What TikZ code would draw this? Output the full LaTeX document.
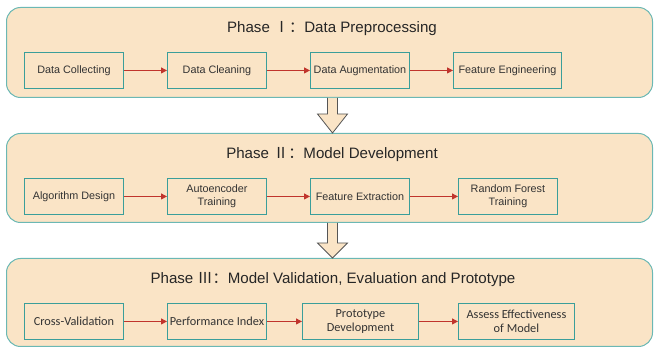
\documentclass[tikz,border=0pt]{standalone}
\usepackage{fontspec}
\setmainfont{Liberation Sans}
\newfontfamily\cjk{Noto Sans CJK SC}
\newfontfamily\calib{Carlito}
\usetikzlibrary{arrows.meta,calc}
\definecolor{panelfill}{HTML}{FAE4C6}
\definecolor{panelline}{HTML}{6BB8B4}
\definecolor{boxline}{HTML}{3A9E9A}
\definecolor{arrowred}{HTML}{C0342C}
\definecolor{txt}{HTML}{333333}
\definecolor{bigline}{HTML}{555555}
\begin{document}
\begin{tikzpicture}[x=1pt,y=-1pt,
  panel/.style={draw=panelline, line width=1pt, fill=panelfill, rounded corners=14pt, anchor=north west, inner sep=0pt},
  stepbox/.style={draw=boxline, line width=0.9pt, align=center, font=\fontsize{10.8}{13}\selectfont, text=txt, inner sep=0pt, anchor=north west, minimum height=36pt},
  stepcal/.style={stepbox, font=\calib\fontsize{12.3}{14.5}\selectfont},
  flow/.style={draw=arrowred, line width=0.9pt, -{Triangle[length=6pt,width=6pt]}},
  title/.style={font=\fontsize{15.1}{17}\selectfont, text=black!85},
  blockarrow/.style={draw=bigline, line width=0.8pt, fill=panelfill, line join=miter}
]
\useasboundingbox (0,0) rectangle (654,347);

% panels
\node[panel, minimum width=646pt, minimum height=90pt] (p1) at (6,7) {};
\node[panel, minimum width=646pt, minimum height=89pt] (p2) at (6,133) {};
\node[panel, minimum width=646pt, minimum height=88pt] (p3) at (6,258) {};

% titles
\node[title] (t1) at (332,29) {Phase {\cjk Ⅰ：}Data Preprocessing};
\node[title] (t2) at (332,155) {Phase {\cjk Ⅱ：}Model Development};
\node[title] (t3) at (333,280) {Phase {\cjk Ⅲ：}Model Validation, Evaluation and Prototype};

% phase I
\node[stepbox, minimum width=99pt] (a1) at (24,52) {Data Collecting};
\node[stepbox, minimum width=99pt] (a2) at (167,52) {Data Cleaning};
\node[stepbox, minimum width=99pt] (a3) at (310,52) {Data Augmentation};
\node[stepbox, minimum width=108pt] (a4) at (453,52) {Feature Engineering};
\draw[flow] (a1) -- (a2);
\draw[flow] (a2) -- (a3);
\draw[flow] (a3) -- (a4);

% phase II
\node[stepbox, minimum width=99pt] (b1) at (24,178) {Algorithm Design};
\node[stepbox, minimum width=99pt] (b2) at (167,178) {Autoencoder\\Training};
\node[stepbox, minimum width=99pt] (b3) at (310,178) {Feature Extraction};
\node[stepbox, minimum width=99pt] (b4) at (458,178) {Random Forest\\Training};
\draw[flow] (b1) -- (b2);
\draw[flow] (b2) -- (b3);
\draw[flow] (b3) -- (b4);

% phase III
\node[stepcal, minimum width=99pt] (c1) at (24,303) {Cross-Validation};
\node[stepcal, minimum width=99pt] (c2) at (167,303) {Performance Index};
\node[stepcal, minimum width=116pt] (c3) at (302,303) {Prototype\\Development};
\node[stepcal, minimum width=116pt] (c4) at (458,303) {Assess Effectiveness\\of Model};
\draw[flow] (c1) -- (c2);
\draw[flow] (c2) -- (c3);
\draw[flow] (c3) -- (c4);

% block arrows between phases
\coordinate (s1) at ($(p1.south)+(3,0)$);
\coordinate (e1) at ($(p2.north)+(3,0)$);
\draw[blockarrow] ($(s1)+(-5,0)$) -- ($(s1)+(-5,16)$) -- ($(s1)+(-15,16)$) -- (e1) -- ($(s1)+(15,16)$) -- ($(s1)+(5,16)$) -- ($(s1)+(5,0)$);
\coordinate (s2) at ($(p2.south)+(3,0)$);
\coordinate (e2) at ($(p3.north)+(3,0)$);
\draw[blockarrow] ($(s2)+(-5,0)$) -- ($(s2)+(-5,20)$) -- ($(s2)+(-15,20)$) -- (e2) -- ($(s2)+(15,20)$) -- ($(s2)+(5,20)$) -- ($(s2)+(5,0)$);
\end{tikzpicture}
\end{document}
